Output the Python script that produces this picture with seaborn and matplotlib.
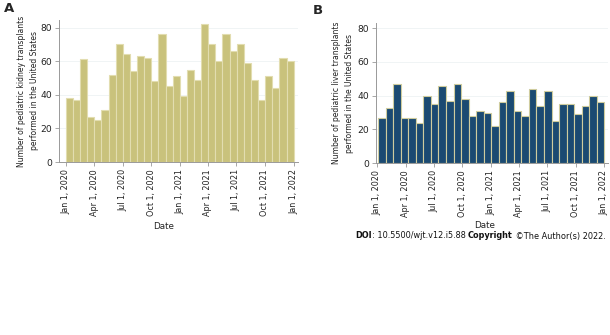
import numpy as np
import pandas as pd
import matplotlib
matplotlib.use("Agg")
import matplotlib.pyplot as plt
import matplotlib.dates as mdates
import seaborn as sns

# ---- data (counts per histogram bin) ----
kidney_counts = [38, 37, 61, 27, 25, 31, 52, 70, 64, 54, 63, 62, 48, 76, 45, 51,
                 39, 55, 49, 82, 70, 60, 76, 66, 70, 59, 49, 37, 51, 44, 62, 60]
liver_counts = [27, 33, 47, 27, 27, 24, 40, 35, 46, 37, 47, 38, 28, 31, 30,
                22, 36, 43, 31, 28, 44, 34, 43, 25, 35, 35, 29, 34, 40, 36]
kidney_range = ["2020-01-01", "2022-01-01"]
liver_range = ["2020-01-04", "2022-01-01"]
tick_dates = ["2020-01-01", "2020-04-01", "2020-07-01", "2020-10-01", "2021-01-01",
              "2021-04-01", "2021-07-01", "2021-10-01", "2022-01-01"]
tick_labels = ["Jan 1, 2020", "Apr 1, 2020", "Jul 1, 2020", "Oct 1, 2020", "Jan 1, 2021",
               "Apr 1, 2021", "Jul 1, 2021", "Oct 1, 2021", "Jan 1, 2022"]
y_ticks = [0, 20, 40, 60, 80]

sns.set_style("white")
plt.rcParams['font.family'] = ['DejaVu Sans']

W, H = 610, 335
fig = plt.figure(figsize=(6.1, 3.35), dpi=100)
axA = fig.add_axes([59 / W, 1 - 162 / H, 239 / W, 142 / H])
axB = fig.add_axes([375.7 / W, 1 - 163.3 / H, 232 / W, 140.3 / H])


def draw(ax, counts, rng, fill, edge, ylabel, pad_l, pad_r, ytop, ylab_x, date_xy):
    start = mdates.date2num(pd.Timestamp(rng[0]))
    end = mdates.date2num(pd.Timestamp(rng[1]))
    nb = len(counts)
    width = (end - start) / nb
    centers = start + width * (np.arange(nb) + 0.5)
    df = pd.DataFrame({"date": centers, "n": counts})
    sns.histplot(data=df, x="date", weights="n", bins=nb, binrange=(start, end), ax=ax,
                 color=fill, alpha=1, edgecolor=edge, linewidth=0.8)
    t0 = mdates.date2num(pd.Timestamp(tick_dates[0]))
    t1 = mdates.date2num(pd.Timestamp(tick_dates[-1]))
    ax.set_xlim(t0 - pad_l, t1 + pad_r)
    ax.set_ylim(0, ytop)
    ax.set_xticks([mdates.date2num(pd.Timestamp(d)) for d in tick_dates])
    ax.set_xticklabels(tick_labels, rotation=90, fontsize=5.8, color="#222222")
    ax.set_yticks(y_ticks)
    ax.set_yticklabels([str(v) for v in y_ticks], fontsize=6.6, color="#222222")
    for v in y_ticks[1:]:
        ax.axhline(v, color="#eef2f4", lw=0.6, zorder=0)
    ax.set_axisbelow(True)
    for s in ["top", "right"]:
        ax.spines[s].set_visible(False)
    for s in ["left", "bottom"]:
        ax.spines[s].set_color("#999999")
        ax.spines[s].set_linewidth(0.7)
    ax.tick_params(axis="both", which="major", length=3, width=0.6, color="#999999",
                   pad=2, bottom=True, left=True)
    ax.set_xlabel("Date", fontsize=6.3, color="#222222")
    ax.xaxis.set_label_coords(date_xy[0], date_xy[1])
    ax.xaxis.label.set_va("center")
    ax.set_ylabel(ylabel, fontsize=5.5, color="#222222", linespacing=1.5)
    ax.yaxis.set_label_coords(ylab_x, 0.5)
    ax.yaxis.label.set_va("center")


draw(axA, kidney_counts, kidney_range, "#c9c27c", "#e2ddb0",
     "Number of pediatric kidney transplants\nperformed in the United States", 22, 14, 84.5,
     -0.130, (0.438, -0.451))
draw(axB, liver_counts, liver_range, "#1b4a72", "#cfcc9e",
     "Number of pediatric liver transplants\nperformed in the United States", 5, 11, 83,
     -0.141, (0.471, -0.44))

fig.text(4 / W, 1 - 9 / H, "A", fontsize=9.5, fontweight="bold", va="center", ha="left")
fig.text(313 / W, 1 - 10 / H, "B", fontsize=9.5, fontweight="bold", va="center", ha="left")

# DOI line composed of bold and regular pieces
pieces = [("DOI", "bold"), (": 10.5500/wjt.v12.i5.88 ", "normal"), ("Copyright", "bold"),
          (" \u00a9The Author(s) 2022.", "normal")]
fig.canvas.draw()
r = fig.canvas.get_renderer()
base = 6.0
total = 0
for txt, w in pieces:
    t = fig.text(0, 0, txt, fontsize=base, fontweight=w)
    total += t.get_window_extent(renderer=r).width
    t.remove()
fs = base * 252 / total
x = 355 / W
y = 1 - 236 / H
for txt, w in pieces:
    t = fig.text(x, y, txt, fontsize=fs, fontweight=w, va="center", ha="left", color="#111111")
    bb = t.get_window_extent(renderer=r)
    x += bb.width / fig.bbox.width

fig.savefig("out.png", dpi=100)
